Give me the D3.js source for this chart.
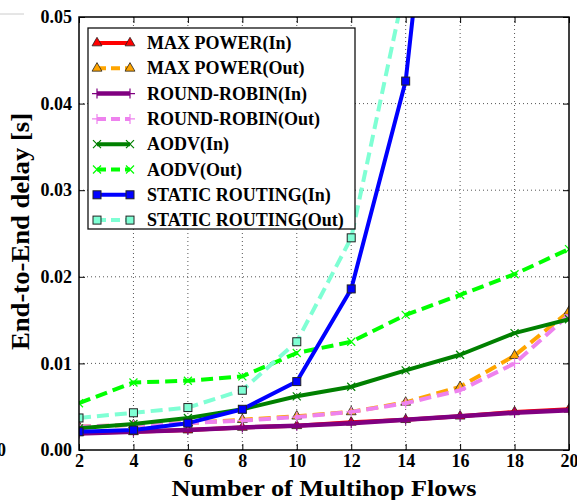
<!DOCTYPE html>
<html>
<head>
<meta charset="utf-8">
<script src="https://cdn.jsdelivr.net/npm/d3@7"></script>
<style>
  body { margin: 0; background: #fff; }
  svg { display: block; }
  text { font-family: "Liberation Serif", "Times New Roman", serif; font-weight: bold; fill: #000; }
</style>
</head>
<body>
<div id="chart"></div>
<script>
// data
var flows = [2, 4, 6, 8, 10, 12, 14, 16, 18, 20];
var maxPowerIn  = [0.0020, 0.0021, 0.0023, 0.0026, 0.0028, 0.0032, 0.0035, 0.0039, 0.0044, 0.0047];
var maxPowerOut = [0.0027, 0.0029, 0.0031, 0.0035, 0.0039, 0.0044, 0.0055, 0.0073, 0.0109, 0.0160];
var rrIn        = [0.0019, 0.0021, 0.0023, 0.0026, 0.0028, 0.0031, 0.0035, 0.0039, 0.0043, 0.0046];
var rrOut       = [0.0027, 0.0029, 0.0031, 0.0034, 0.0038, 0.0044, 0.0054, 0.0069, 0.0100, 0.0156];
var aodvIn      = [0.0025, 0.0030, 0.0037, 0.0047, 0.0062, 0.0073, 0.0092, 0.0110, 0.0135, 0.0151];
var aodvOut     = [0.0054, 0.0078, 0.0080, 0.0085, 0.0112, 0.0125, 0.0156, 0.0179, 0.0203, 0.0232];
// last points go off the top of the plot (clipped)
var staticIn    = [0.0021, 0.0023, 0.0031, 0.0047, 0.0079, 0.0186, 0.0426, 0.0997, 0.16, 0.25];
var staticOut   = [0.0037, 0.0043, 0.0049, 0.0069, 0.0125, 0.0245, 0.054, 0.09, 0.15, 0.23];
var xTicks = [2, 4, 6, 8, 10, 12, 14, 16, 18, 20];
var yTicks = [0, 0.01, 0.02, 0.03, 0.04, 0.05];

var series = [
  {name: "MAX POWER(In)",        values: maxPowerIn,  color: "#ff0000", dash: null, marker: "tri", width: 4},
  {name: "MAX POWER(Out)",       values: maxPowerOut, color: "#ffa500", dash: "12,6", marker: "tri", width: 4},
  {name: "ROUND-ROBIN(In)",      values: rrIn,        color: "#800080", dash: null, marker: "plus", width: 4.5},
  {name: "ROUND-ROBIN(Out)",     values: rrOut,       color: "#ee82ee", dash: "12,6", marker: "plus", width: 4},
  {name: "AODV(In)",             values: aodvIn,      color: "#008000", dash: null, marker: "x", width: 4},
  {name: "AODV(Out)",            values: aodvOut,     color: "#00ff00", dash: "12,6", marker: "x", width: 4},
  {name: "STATIC ROUTING(In)",   values: staticIn,    color: "#0000ff", dash: null, marker: "sq", width: 4},
  {name: "STATIC ROUTING(Out)",  values: staticOut,   color: "#7fffd4", dash: "12,6", marker: "sq", width: 4}
];

var W = 577, H = 500;
var margin = {top: 17, right: 8, bottom: 50, left: 79},
    width = 490, height = 433;

var svg = d3.select("#chart").append("svg").attr("width", W).attr("height", H);

// stray bits from the neighbouring figure
svg.append("line").attr("x1", 0).attr("x2", 24).attr("y1", 14).attr("y2", 14)
  .attr("stroke", "#ccc").attr("stroke-width", 1);
svg.append("text").attr("x", 6).attr("y", 456).attr("text-anchor", "end")
  .style("font-size", "18px").text("0");

var x = d3.scaleLinear().domain([2, 20]).range([0, width]);
var y = d3.scaleLinear().domain([0, 0.05]).range([height, 0]);

var g = svg.append("g").attr("transform", "translate(" + margin.left + "," + margin.top + ")");

g.append("defs").append("clipPath").attr("id", "clip")
  .append("rect").attr("width", width).attr("height", height);

// grid
g.append("g").selectAll("line").data(xTicks.slice(1, -1)).enter().append("line")
  .attr("x1", x).attr("x2", x).attr("y1", 0).attr("y2", height)
  .attr("stroke", "#555").attr("stroke-width", 1).attr("stroke-dasharray", "1,3");
g.append("g").selectAll("line").data(yTicks.slice(1, -1)).enter().append("line")
  .attr("y1", y).attr("y2", y).attr("x1", 0).attr("x2", width)
  .attr("stroke", "#555").attr("stroke-width", 1).attr("stroke-dasharray", "1,3");

function drawMarker(sel, type, color) {
  if (type === "tri") {
    sel.append("path").attr("d", d3.symbol(d3.symbolTriangle, 42)())
      .attr("fill", color).attr("stroke", "#222").attr("stroke-width", 0.8);
  } else if (type === "sq") {
    sel.append("rect").attr("x", -4).attr("y", -4).attr("width", 8).attr("height", 8)
      .attr("fill", color).attr("stroke", "#222").attr("stroke-width", 1);
  } else if (type === "plus") {
    sel.append("path").attr("d", "M-5,0H5M0,-5V5")
      .attr("stroke", color).attr("stroke-width", 1.2).attr("fill", "none");
  } else if (type === "x") {
    sel.append("path").attr("d", "M-4,-4L4,4M-4,4L4,-4")
      .attr("stroke", color).attr("stroke-width", 1.2).attr("fill", "none");
  }
}

var line = d3.line().x(function(d) { return x(d.x); }).y(function(d) { return y(d.y); });
var plot = g.append("g").attr("clip-path", "url(#clip)");

series.forEach(function(s) {
  var pts = flows.map(function(f, i) { return {x: f, y: s.values[i]}; });
  var sg = plot.append("g");
  sg.append("path").datum(pts).attr("d", line)
    .attr("fill", "none").attr("stroke", s.color).attr("stroke-width", s.width)
    .attr("stroke-dasharray", s.dash).attr("stroke-linejoin", "round");
  sg.selectAll("g.m").data(pts).enter().append("g").attr("class", "m")
    .attr("transform", function(d) { return "translate(" + x(d.x) + "," + y(d.y) + ")"; })
    .each(function() { drawMarker(d3.select(this), s.marker, s.color); });
});

// axes, ticks inside on all four sides
var fmt = d3.format(".2f");
var xAxis = g.append("g").attr("transform", "translate(0," + height + ")")
  .call(d3.axisBottom(x).tickValues(xTicks).tickSizeInner(-6).tickSizeOuter(0).tickPadding(4));
var yAxis = g.append("g")
  .call(d3.axisLeft(y).tickValues(yTicks).tickFormat(fmt).tickSizeInner(-6).tickSizeOuter(0).tickPadding(7));
g.append("g").call(d3.axisTop(x).tickValues(xTicks).tickSizeInner(-6).tickSizeOuter(0).tickFormat(""));
g.append("g").attr("transform", "translate(" + width + ",0)")
  .call(d3.axisRight(y).tickValues(yTicks).tickSizeInner(-6).tickSizeOuter(0).tickFormat(""));
g.selectAll(".domain").remove();
g.selectAll(".tick line").attr("stroke", "#000").attr("stroke-width", 1);
g.selectAll(".tick text").style("font-size", "18px").style("font-family", "Liberation Serif, serif")
  .style("font-weight", "bold").attr("fill", "#000");

g.append("rect").attr("width", width).attr("height", height)
  .attr("fill", "none").attr("stroke", "#000").attr("stroke-width", 1.5);

// legend
var lg = g.append("g").attr("transform", "translate(" + (88 - margin.left) + "," + (28 - margin.top) + ")");
lg.append("rect").attr("width", 267).attr("height", 201)
  .attr("fill", "#fff").attr("stroke", "#111").attr("stroke-width", 1.3);
series.forEach(function(s, i) {
  var ry = 15 + i * 25.3;
  var row = lg.append("g").attr("transform", "translate(0," + ry + ")");
  row.append("line").attr("x1", 9).attr("x2", 42).attr("y1", 0).attr("y2", 0)
    .attr("stroke", s.color).attr("stroke-width", s.width).attr("stroke-dasharray", s.dash ? "9,5" : null);
  [9, 42].forEach(function(mx) {
    drawMarker(row.append("g").attr("transform", "translate(" + mx + ",0)"), s.marker, s.color);
  });
  row.append("text").attr("x", 59).attr("y", 6).style("font-size", "18px").text(s.name);
});

// axis titles
svg.append("text").attr("x", margin.left + width / 2).attr("y", 496)
  .attr("text-anchor", "middle").style("font-size", "24px")
  .attr("textLength", 305).attr("lengthAdjust", "spacingAndGlyphs")
  .text("Number of Multihop Flows");
svg.append("text").attr("transform", "translate(29," + (margin.top + height / 2 - 2) + ") rotate(-90)")
  .attr("text-anchor", "middle").style("font-size", "25px")
  .attr("textLength", 237).attr("lengthAdjust", "spacingAndGlyphs")
  .text("End-to-End delay [s]");
</script>
</body>
</html>
